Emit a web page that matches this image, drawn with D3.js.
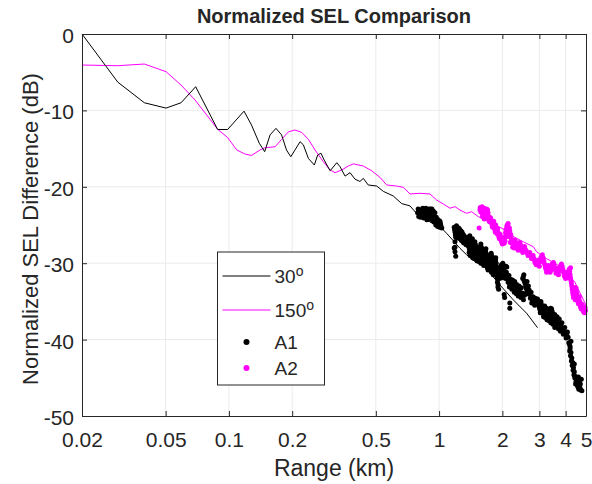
<!DOCTYPE html>
<html>
<head>
<meta charset="utf-8">
<script src="https://cdn.jsdelivr.net/npm/d3@7"></script>
<style>
  body { margin: 0; background: #fff; }
  text { font-family: "Liberation Sans", Arial, Helvetica, sans-serif; fill: #262626; }
</style>
</head>
<body>
<svg id="chart" width="592" height="484"></svg>
<script>
// 30 degree model curve: [range km, dB]
const line30 = [
  [0.02, 0], [0.0296, -6.3], [0.0396, -9.0], [0.0502, -9.7], [0.0592, -9.0], [0.0695, -6.9],
  [0.0884, -12.5], [0.0986, -12.5], [0.118, -10.1], [0.128, -11.9], [0.1395, -14.3], [0.148, -15.4],
  [0.157, -13.2], [0.1675, -12.35], [0.178, -13.2], [0.188, -15.2], [0.197, -16.06], [0.206, -15.2],
  [0.218, -14.1], [0.226, -14.5], [0.239, -16.3], [0.255, -17.15], [0.2645, -15.84], [0.274, -15.6],
  [0.284, -16.5], [0.303, -17.9], [0.326, -16.85], [0.338, -17.37], [0.357, -18.6], [0.377, -18.15],
  [0.398, -19.0], [0.42, -19.3], [0.436, -18.9], [0.46, -19.76], [0.505, -19.9], [0.543, -20.6],
  [0.605, -21.2], [0.664, -22.2], [0.727, -22.5], [0.782, -23.5], [0.811, -23.6], [0.905, -24.6],
  [1.01, -25.2], [1.087, -26.1], [1.164, -27.0], [1.257, -28.05], [1.352, -28.9], [1.481, -29.8],
  [1.653, -30.5], [1.948, -32.85], [2.254, -34.8], [2.61, -36.56], [2.94, -38.44]
];

// 150 degree model curve
const line150 = [
  [0.02, -4.06], [0.0296, -4.15], [0.0396, -3.93], [0.0502, -4.93], [0.0592, -6.68], [0.069, -8.64],
  [0.0784, -10.6], [0.0884, -12.47], [0.0986, -13.55], [0.109, -15.18], [0.119, -15.7], [0.128, -15.9],
  [0.1406, -15.18], [0.148, -14.9], [0.166, -14.75], [0.178, -13.8], [0.192, -12.8], [0.206, -12.57],
  [0.222, -12.87], [0.239, -13.8], [0.257, -15.18], [0.281, -16.7], [0.303, -17.8], [0.32, -18.15],
  [0.344, -17.8], [0.37, -17.28], [0.391, -17.0], [0.436, -17.28], [0.478, -17.9], [0.523, -18.76],
  [0.563, -19.76], [0.628, -19.9], [0.676, -20.07], [0.727, -20.94], [0.811, -20.85], [0.905, -20.94],
  [0.974, -21.73], [1.047, -22.25], [1.127, -22.8], [1.19, -22.6], [1.257, -23.04], [1.352, -23.47],
  [1.429, -23.26], [1.536, -23.9], [1.746, -24.6], [2.058, -25.65], [2.254, -26.5], [2.515, -27.2],
  [2.806, -27.84], [2.91, -28.5], [3.19, -29.3], [3.56, -30.0], [3.97, -30.9], [4.43, -32.5], [5.0, -35.5]
];

// A1 measurements
const a1 = [
  [0.79, -23.4], [0.80, -23.9], [0.81, -23.2], [0.83, -23.0], [0.84, -23.6], [0.85, -22.9], [0.86, -23.3],
  [0.87, -23.8], [0.88, -23.1], [0.89, -24.2], [0.90, -23.5], [0.91, -22.9], [0.92, -23.7], [0.93, -24.4],
  [0.94, -23.2], [0.95, -23.9], [0.96, -24.6], [0.97, -24.0], [0.98, -24.8], [0.99, -24.3], [1.00, -25.0],
  [1.01, -24.5], [1.02, -25.1],
  [0.795, -22.9], [0.805, -23.6], [0.815, -24.0], [0.825, -23.4], [0.835, -22.8], [0.845, -24.1],
  [0.855, -23.5], [0.865, -22.8], [0.875, -24.3], [0.885, -23.6], [0.895, -22.9], [0.905, -24.0],
  [0.915, -23.3], [0.925, -22.9], [0.935, -23.8], [0.945, -24.6], [0.955, -23.4], [0.965, -25.0],
  [0.975, -24.4], [0.985, -25.2], [0.995, -24.7], [1.005, -25.3], [1.015, -24.8], [1.03, -25.4],
  [1.18, -25.3], [1.19, -25.9], [1.20, -26.6], [1.21, -25.1], [1.22, -25.6], [1.23, -26.2], [1.24, -25.4],
  [1.25, -26.0], [1.26, -26.8], [1.27, -25.8], [1.28, -26.4], [1.29, -27.1], [1.30, -26.2], [1.31, -26.9],
  [1.32, -27.4], [1.33, -26.6], [1.35, -27.2], [1.19, -27.2], [1.19, -27.9], [1.19, -28.5], [1.20, -29.1],
  [1.18, -28.0],
  [1.185, -25.6], [1.195, -26.3], [1.205, -25.4], [1.215, -26.0], [1.225, -26.7], [1.235, -25.8],
  [1.245, -26.5], [1.255, -25.6], [1.265, -26.2], [1.275, -27.0], [1.285, -25.9], [1.295, -26.6],
  [1.305, -27.3], [1.315, -26.4], [1.325, -27.0], [1.34, -26.8], [1.345, -27.6],
  [1.37, -27.0], [1.38, -27.8], [1.39, -28.6], [1.40, -26.4], [1.41, -27.3], [1.42, -28.2], [1.43, -29.0],
  [1.44, -26.8], [1.45, -27.7], [1.46, -28.5], [1.47, -29.4], [1.48, -27.2], [1.50, -28.0], [1.51, -28.9],
  [1.52, -29.7], [1.54, -27.9], [1.55, -28.8], [1.57, -29.6], [1.58, -30.0],
  [1.375, -26.6], [1.385, -27.4], [1.395, -28.2], [1.405, -29.0], [1.415, -26.9], [1.425, -27.8],
  [1.435, -28.6], [1.445, -29.3], [1.455, -27.3], [1.465, -28.1], [1.475, -28.9], [1.49, -27.6],
  [1.495, -28.5], [1.505, -29.3], [1.515, -28.3], [1.53, -29.1], [1.535, -28.4], [1.56, -29.2], [1.565, -28.3],
  [1.58, -27.5], [1.60, -28.2], [1.61, -28.9], [1.62, -29.6], [1.63, -30.3], [1.64, -28.5],
  [1.67, -28.1], [1.68, -28.8], [1.69, -29.5], [1.70, -30.2], [1.71, -30.9], [1.73, -29.0],
  [1.77, -28.7], [1.78, -29.4], [1.79, -30.1], [1.80, -30.8], [1.81, -31.5], [1.83, -29.8],
  [1.86, -29.3], [1.87, -30.0], [1.88, -30.7], [1.89, -31.4], [1.90, -32.1], [1.91, -32.8], [1.92, -33.4],
  [1.95, -30.5], [1.97, -31.5],
  [1.59, -27.9], [1.605, -28.6], [1.615, -29.3], [1.625, -30.0], [1.645, -29.2], [1.655, -29.9],
  [1.665, -28.5], [1.675, -29.2], [1.685, -29.9], [1.695, -30.6], [1.72, -29.7], [1.735, -30.4],
  [1.745, -29.1], [1.755, -29.8], [1.765, -30.5], [1.775, -31.2], [1.785, -29.1], [1.795, -29.8],
  [1.805, -30.5], [1.815, -31.1], [1.835, -30.4], [1.85, -31.0], [1.855, -29.6], [1.865, -30.4],
  [1.875, -31.1], [1.885, -31.8], [1.895, -32.5], [1.905, -33.1], [1.93, -31.0], [1.94, -32.0],
  [1.96, -31.0], [1.98, -30.2], [1.99, -31.9],
  [2.01, -30.0], [2.03, -30.7], [2.05, -31.4], [2.07, -32.0], [2.10, -30.5], [2.12, -31.6],
  [2.04, -34.1], [2.05, -34.5], [2.17, -35.2], [2.17, -35.9],
  [2.14, -32.2], [2.17, -32.8], [2.20, -32.3], [2.22, -33.4], [2.25, -32.6], [2.28, -33.8], [2.30, -32.9],
  [2.33, -34.0], [2.35, -33.3], [2.38, -34.3], [2.41, -33.6], [2.45, -34.5], [2.48, -33.9], [2.52, -34.8],
  [2.55, -34.2],
  [2.02, -30.3], [2.04, -31.0], [2.06, -31.7], [2.08, -30.4], [2.09, -31.2], [2.11, -31.9], [2.13, -32.5],
  [2.15, -31.6], [2.16, -33.1], [2.185, -32.1], [2.21, -32.9], [2.235, -32.2], [2.26, -33.2], [2.29, -32.4],
  [2.31, -33.5], [2.34, -32.8], [2.37, -33.7], [2.40, -33.0], [2.43, -34.0], [2.46, -33.2], [2.49, -34.3],
  [2.535, -34.0],
  [2.50, -32.0], [2.53, -31.5], [2.56, -32.6], [2.60, -33.3], [2.64, -34.0], [2.68, -33.5], [2.72, -34.6],
  [2.76, -35.2], [2.80, -34.4], [2.85, -35.5], [2.90, -34.9],
  [2.515, -31.8], [2.54, -32.3], [2.58, -33.0], [2.62, -33.7], [2.62, -32.4], [2.66, -33.0], [2.70, -34.1],
  [2.74, -33.8], [2.78, -34.9], [2.82, -35.0], [2.87, -34.6], [2.92, -35.4], [2.94, -34.7],
  [2.97, -35.0], [3.00, -35.8], [3.03, -36.5], [3.06, -35.3], [3.10, -36.2], [3.14, -37.0], [3.18, -35.6],
  [3.22, -36.5], [3.26, -37.4], [3.30, -36.0], [3.35, -37.0], [3.40, -37.8], [3.45, -36.6], [3.50, -37.6],
  [3.55, -38.4],
  [2.99, -35.4], [3.02, -36.1], [3.05, -35.0], [3.08, -35.8], [3.12, -36.6], [3.16, -36.3], [3.20, -37.1],
  [3.24, -35.9], [3.28, -36.7], [3.32, -37.5], [3.38, -36.4], [3.42, -37.3], [3.48, -38.0], [3.53, -37.0],
  [3.40, -35.9], [3.45, -36.3], [3.52, -37.3], [3.58, -38.2], [3.64, -37.0], [3.70, -38.6], [3.76, -37.9],
  [3.78, -38.9], [3.84, -37.8], [3.90, -39.3], [3.96, -38.4], [4.02, -39.8], [4.08, -39.0], [4.14, -40.4],
  [4.20, -40.9],
  [3.43, -36.0], [3.48, -36.8], [3.55, -36.7], [3.61, -37.6], [3.67, -38.0], [3.73, -37.3], [3.80, -38.3],
  [3.87, -38.6], [3.93, -38.8], [3.99, -39.2], [4.05, -39.4], [4.11, -39.7], [4.17, -40.6],
  [4.18, -41.5], [4.22, -42.1], [4.26, -42.8], [4.30, -43.4], [4.24, -40.2],
  [4.34, -44.0], [4.38, -44.6], [4.42, -45.0], [4.40, -43.2],
  [4.48, -45.5], [4.55, -46.0], [4.62, -46.5], [4.70, -45.8], [4.78, -46.7], [4.60, -44.9], [4.75, -45.2],
  [4.20, -41.2], [4.24, -41.7], [4.28, -42.4], [4.32, -43.0], [4.36, -43.7], [4.40, -44.2], [4.44, -44.8],
  [4.46, -45.8], [4.52, -45.3], [4.58, -46.2], [4.65, -45.5], [4.68, -46.3], [4.72, -46.6]
];

// A2 measurements
const a2 = [
  [1.57, -22.7], [1.58, -23.3], [1.60, -22.6], [1.61, -23.9], [1.62, -23.0], [1.64, -22.8], [1.64, -24.2],
  [1.66, -23.5], [1.68, -22.9], [1.69, -24.0], [1.71, -23.4], [1.73, -24.5], [1.55, -25.4],
  [1.76, -24.1], [1.78, -24.8], [1.80, -25.3], [1.82, -24.5], [1.84, -25.6], [1.86, -25.0], [1.88, -26.1],
  [1.90, -25.5], [1.92, -26.4], [1.94, -26.8],
  [1.96, -26.5], [1.98, -27.2], [2.00, -27.5], [2.02, -26.9], [2.04, -27.4],
  [2.07, -26.0], [2.10, -25.2], [2.13, -24.8], [2.16, -25.4], [2.19, -26.2], [2.22, -26.9], [2.25, -27.6],
  [2.12, -26.5], [2.18, -27.3],
  [2.30, -27.0], [2.34, -27.8], [2.38, -28.3], [2.42, -27.3], [2.46, -28.0], [2.50, -28.6], [2.55, -27.8],
  [2.60, -28.4], [2.65, -29.0], [2.70, -28.6], [2.75, -29.4], [2.80, -29.0], [2.85, -29.8], [2.90, -30.2],
  [2.95, -29.6], [3.00, -30.4], [3.05, -29.3], [3.10, -28.9], [3.15, -29.7], [3.20, -30.5], [3.25, -31.2],
  [3.30, -30.3], [3.35, -31.0],
  [3.40, -30.9], [3.45, -30.1], [3.50, -29.9], [3.55, -30.6], [3.60, -31.3], [3.65, -30.7], [3.70, -31.5],
  [3.76, -30.5], [3.82, -30.1], [3.88, -30.8], [3.94, -31.6], [4.00, -32.0], [4.06, -31.2], [4.12, -31.9],
  [4.16, -30.8], [4.20, -31.5], [4.24, -32.3], [4.28, -33.0], [4.32, -33.8], [4.36, -34.5], [4.40, -33.2],
  [4.44, -34.8], [4.22, -30.6],
  [4.48, -33.2], [4.52, -34.0], [4.56, -34.8], [4.60, -35.3], [4.65, -34.4], [4.70, -35.6], [4.75, -36.0],
  [4.80, -35.4], [4.85, -36.2], [4.92, -36.5], [4.95, -35.8],
  [1.565, -23.0], [1.59, -22.9], [1.605, -23.5], [1.63, -23.4], [1.65, -23.8], [1.67, -24.1], [1.70, -23.0],
  [1.72, -23.9], [1.74, -24.0], [1.75, -24.6], [1.77, -24.5], [1.79, -25.2], [1.81, -24.9], [1.83, -25.1],
  [1.85, -25.9], [1.87, -25.5], [1.89, -25.8], [1.91, -26.0], [1.93, -26.7], [1.95, -26.2], [1.97, -26.9],
  [1.99, -27.0], [2.01, -27.3], [2.03, -27.0], [2.05, -26.6], [2.06, -27.1], [2.08, -25.6], [2.09, -26.3],
  [2.11, -25.0], [2.115, -25.8], [2.14, -25.3], [2.145, -26.0], [2.17, -25.8], [2.175, -26.6], [2.20, -26.5],
  [2.21, -27.2], [2.235, -27.3], [2.24, -27.9], [2.27, -27.5], [2.28, -28.0], [2.32, -27.4], [2.36, -28.1],
  [2.40, -27.8], [2.44, -27.6], [2.48, -28.3], [2.52, -28.1], [2.575, -28.2], [2.625, -28.7], [2.675, -28.8],
  [2.725, -29.0], [2.775, -29.2], [2.825, -29.4], [2.875, -30.0], [2.925, -29.8], [2.975, -30.0],
  [3.025, -29.8], [3.075, -29.1], [3.125, -29.3], [3.175, -30.1], [3.225, -30.8], [3.275, -30.7],
  [3.325, -30.6], [3.375, -31.2], [3.425, -30.5], [3.475, -30.0], [3.525, -30.2], [3.575, -30.9],
  [3.625, -31.0], [3.675, -31.1], [3.73, -31.0], [3.79, -30.3], [3.85, -30.4], [3.91, -31.2], [3.97, -31.8],
  [4.03, -31.6], [4.09, -31.5], [4.14, -31.3], [4.18, -31.1], [4.22, -31.9], [4.26, -32.6], [4.30, -33.4],
  [4.34, -34.1], [4.38, -33.8], [4.42, -34.0], [4.46, -33.9], [4.50, -33.6], [4.54, -34.4], [4.58, -35.0],
  [4.625, -34.8], [4.675, -35.0], [4.725, -35.8], [4.775, -35.7], [4.825, -35.8], [4.875, -36.4],
  [4.90, -35.9], [4.97, -36.2]
];

const xTicks = [0.02, 0.05, 0.1, 0.2, 0.5, 1, 2, 3, 4, 5];
const yTicks = [-50, -40, -30, -20, -10, 0];

const svg = d3.select("#chart");
const margin = { top: 34, right: 6, bottom: 68, left: 82 },
      width = 592 - margin.left - margin.right,
      height = 484 - margin.top - margin.bottom;

const g = svg.append("g").attr("transform", `translate(${margin.left},${margin.top})`);

const x = d3.scaleLog().domain([0.02, 5]).range([0, width]);
const y = d3.scaleLinear().domain([-50, 0]).range([height, 0]);

// grid
g.append("g").selectAll("line").data(xTicks.slice(1, -1)).enter().append("line")
  .attr("x1", d => x(d)).attr("x2", d => x(d))
  .attr("y1", 0).attr("y2", height)
  .attr("stroke", "#ebebeb").attr("stroke-width", 1);
g.append("g").selectAll("line").data(yTicks.slice(1, -1)).enter().append("line")
  .attr("x1", 0).attr("x2", width)
  .attr("y1", d => y(d)).attr("y2", d => y(d))
  .attr("stroke", "#ebebeb").attr("stroke-width", 1);

const line = d3.line().x(d => x(d[0])).y(d => y(d[1]));

g.append("path").datum(line150)
  .attr("fill", "none").attr("stroke", "#ff00ff").attr("stroke-width", 1)
  .attr("d", line);

g.append("path").datum(line30)
  .attr("fill", "none").attr("stroke", "#000").attr("stroke-width", 1)
  .attr("d", line);

g.append("g").selectAll("circle").data(a1).enter().append("circle")
  .attr("cx", d => x(d[0])).attr("cy", d => y(d[1]))
  .attr("r", 2.5).attr("fill", "#000");

g.append("g").selectAll("circle").data(a2).enter().append("circle")
  .attr("cx", d => x(d[0])).attr("cy", d => y(d[1]))
  .attr("r", 2.5).attr("fill", "#ff00ff");

// axes (ticks inward, closed box)
const axFont = "21px";
const xAxis = g.append("g").attr("transform", `translate(0,${height})`)
  .call(d3.axisBottom(x).tickValues(xTicks).tickFormat(d => d).tickSizeInner(-5).tickSizeOuter(0).tickPadding(16));
const xAxisTop = g.append("g")
  .call(d3.axisTop(x).tickValues(xTicks).tickFormat("").tickSizeInner(-5).tickSizeOuter(0));
const yAxis = g.append("g")
  .call(d3.axisLeft(y).tickValues(yTicks).tickFormat(d => d).tickSizeInner(-5).tickSizeOuter(0).tickPadding(8));
const yAxisR = g.append("g").attr("transform", `translate(${width},0)`)
  .call(d3.axisRight(y).tickValues(yTicks).tickFormat("").tickSizeInner(-5).tickSizeOuter(0));

[xAxis, xAxisTop, yAxis, yAxisR].forEach(a => {
  a.select(".domain").attr("stroke", "#262626");
  a.selectAll(".tick line").attr("stroke", "#262626");
  a.selectAll("text").style("font-size", axFont).attr("fill", "#262626")
    .style("font-family", '"Liberation Sans", Arial, sans-serif');
});
yAxis.selectAll("text").attr("dy", "0.4em");

// titles
svg.append("text")
  .attr("x", margin.left + width / 2).attr("y", 23)
  .attr("text-anchor", "middle")
  .style("font-size", "20px").style("font-weight", "bold")
  .attr("fill", "#000")
  .text("Normalized SEL Comparison");

svg.append("text")
  .attr("x", margin.left + width / 2).attr("y", 476)
  .attr("text-anchor", "middle")
  .style("font-size", "23px")
  .text("Range (km)");

svg.append("text")
  .attr("transform", `translate(38,${margin.top + height / 2 + 4}) rotate(-90)`)
  .attr("text-anchor", "middle")
  .style("font-size", "22px")
  .text("Normalized SEL Difference (dB)");

// legend
const legend = svg.append("g").attr("transform", "translate(217.5,252)");
legend.append("rect")
  .attr("width", 107).attr("height", 133)
  .attr("fill", "#fff").attr("stroke", "#262626").attr("stroke-width", 1);

const legItems = [
  { label: "30", sup: "o", type: "line", color: "#000", yy: 24 },
  { label: "150", sup: "o", type: "line", color: "#ff00ff", yy: 58 },
  { label: "A1", type: "dot", color: "#000", yy: 90 },
  { label: "A2", type: "dot", color: "#ff00ff", yy: 116 }
];
legItems.forEach(it => {
  if (it.type === "line") {
    legend.append("line")
      .attr("x1", 5).attr("x2", 53).attr("y1", it.yy).attr("y2", it.yy)
      .attr("stroke", it.color).attr("stroke-width", 1);
  } else {
    legend.append("circle")
      .attr("cx", 29).attr("cy", it.yy).attr("r", 3).attr("fill", it.color);
  }
  const t = legend.append("text")
    .attr("x", 57).attr("y", it.yy + 7)
    .style("font-size", "19px");
  t.append("tspan").text(it.label);
  if (it.sup) {
    t.append("tspan").attr("dy", -7).style("font-size", "14px").text(it.sup);
  }
});
</script>
</body>
</html>
